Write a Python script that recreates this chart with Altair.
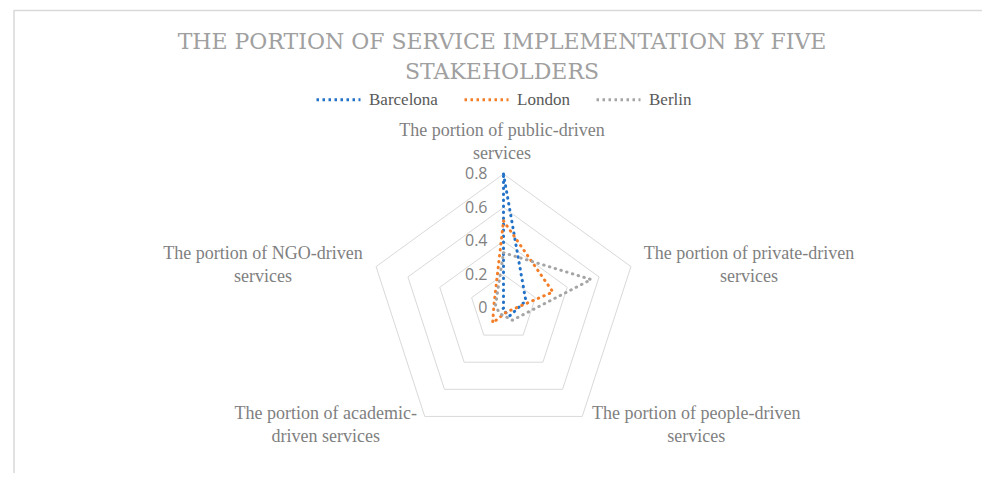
import altair as alt
import pandas as pd

# ---- data ----
categories = ["public", "private", "people", "academic", "NGO"]
category_labels = [
    "The portion of public-driven\nservices",
    "The portion of private-driven\nservices",
    "The portion of people-driven\nservices",
    "The portion of academic-\ndriven services",
    "The portion of NGO-driven\nservices",
]
cities = ["Barcelona", "London", "Berlin"]
barcelona = [0.80, 0.14, 0.06, 0.01, 0.00]
london = [0.52, 0.31, 0.03, 0.11, 0.06]
berlin = [0.33, 0.55, 0.09, 0.04, 0.05]
ring_values = [0.2, 0.4, 0.6, 0.8]
tick_values = [0, 0.2, 0.4, 0.6, 0.8]
tick_labels = ["0", "0.2", "0.4", "0.6", "0.8"]
colors = ["#2272C8", "#F47D27", "#A5A5A5"]
title_lines = ["THE PORTION OF SERVICE IMPLEMENTATION BY FIVE", "STAKEHOLDERS"]

# ---- tables built from the arrays ----
n = len(categories)
series = {"Barcelona": barcelona, "London": london, "Berlin": berlin}
rows = []
for city in cities:
    vals = series[city]
    for i in range(n + 1):
        rows.append({"city": city, "idx": i, "value": vals[i % n]})
series_df = pd.DataFrame(rows)

ring_rows = []
for r in ring_values:
    for i in range(n + 1):
        ring_rows.append({"ring": r, "idx": i, "value": r})
ring_df = pd.DataFrame(ring_rows)

tick_df = pd.DataFrame({"value": tick_values, "label": tick_labels, "idx": [0] * len(tick_values)})
label_df = pd.DataFrame({"cat": categories, "label": category_labels,
                         "idx": list(range(n)), "value": [max(tick_values)] * n})

X_DOM = [-2.9582, 2.8567]
Y_DOM = [-0.98507, 1.13433]

xs = alt.Scale(domain=X_DOM, nice=False, zero=False)
ys = alt.Scale(domain=Y_DOM, nice=False, zero=False)


def polar(ch):
    return ch.transform_calculate(
        theta="datum.idx * 2 * PI / 5",
    ).transform_calculate(
        px="datum.value * sin(datum.theta)",
        py="datum.value * cos(datum.theta)",
    )


def xy():
    return dict(
        x=alt.X("px:Q", scale=xs, axis=None),
        y=alt.Y("py:Q", scale=ys, axis=None),
    )


GRID = "#D9D9D9"
TXT = "#7F7F7F"

dummy = pd.DataFrame({"a": [0]})
border_top = alt.Chart(dummy).mark_rule(color=GRID, strokeWidth=1.5).encode(
    x=alt.value(6), x2=alt.value(990), y=alt.value(-107.5))
border_left = alt.Chart(dummy).mark_rule(color=GRID, strokeWidth=1.5).encode(
    x=alt.value(6), y=alt.value(-108), y2=alt.value(370))

rings = polar(alt.Chart(ring_df)).mark_line(color=GRID, strokeWidth=1).encode(
    **xy(), detail="ring:N", order="idx:Q")

lines = polar(alt.Chart(series_df)).mark_line(
    strokeDash=[0.5, 5.5], strokeCap="round", strokeWidth=3, strokeJoin="round"
).encode(
    **xy(),
    color=alt.Color(
        "city:N",
        scale=alt.Scale(domain=cities, range=colors),
        legend=alt.Legend(
            title=None, orient="none", legendX=307, legendY=-42,
            direction="horizontal", symbolType="stroke", symbolSize=1936,
            symbolStrokeWidth=3, symbolDash=[2.5, 3.5],
            labelFont="Liberation Serif", labelFontSize=17, labelColor="#595959",
            columnPadding=20, labelOffset=7,
        ),
    ),
    order="idx:Q",
)

ticks = polar(alt.Chart(tick_df)).mark_text(
    align="right", baseline="middle", dx=-16, font="Open Sans", fontSize=16, color=TXT
).encode(**xy(), text="label:N")

label_offsets = {
    "public": (-1.5, -43),
    "private": (118, -13),
    "people": (114, -2),
    "academic": (-99, -2),
    "NGO": (-113, -13),
}
label_layers = []
for cat in categories:
    ddx, ddy = label_offsets[cat]
    label_layers.append(
        polar(alt.Chart(label_df).transform_filter(alt.datum.cat == cat)).mark_text(
            align="center", baseline="middle", lineBreak="\n", lineHeight=23,
            font="Liberation Serif", fontSize=18, color=TXT, dx=ddx, dy=ddy,
        ).encode(**xy(), text="label:N")
    )

chart = alt.layer(
    border_top, border_left, rings, lines, ticks, *label_layers
).properties(
    width=974,
    height=355,
    padding={"left": 0, "top": 110, "right": 0, "bottom": 0},
    autosize="none",
    background="white",
    title=alt.Title(
        text=title_lines, font="DejaVu Serif", fontSize=22, fontWeight="normal",
        color="#A0A0A0", anchor="middle", frame="group", lineHeight=30,
        offset=-75, dx=7,
    ),
).configure_view(stroke=None)

chart.save("out.html", embed_options={"renderer": "svg", "actions": False})
